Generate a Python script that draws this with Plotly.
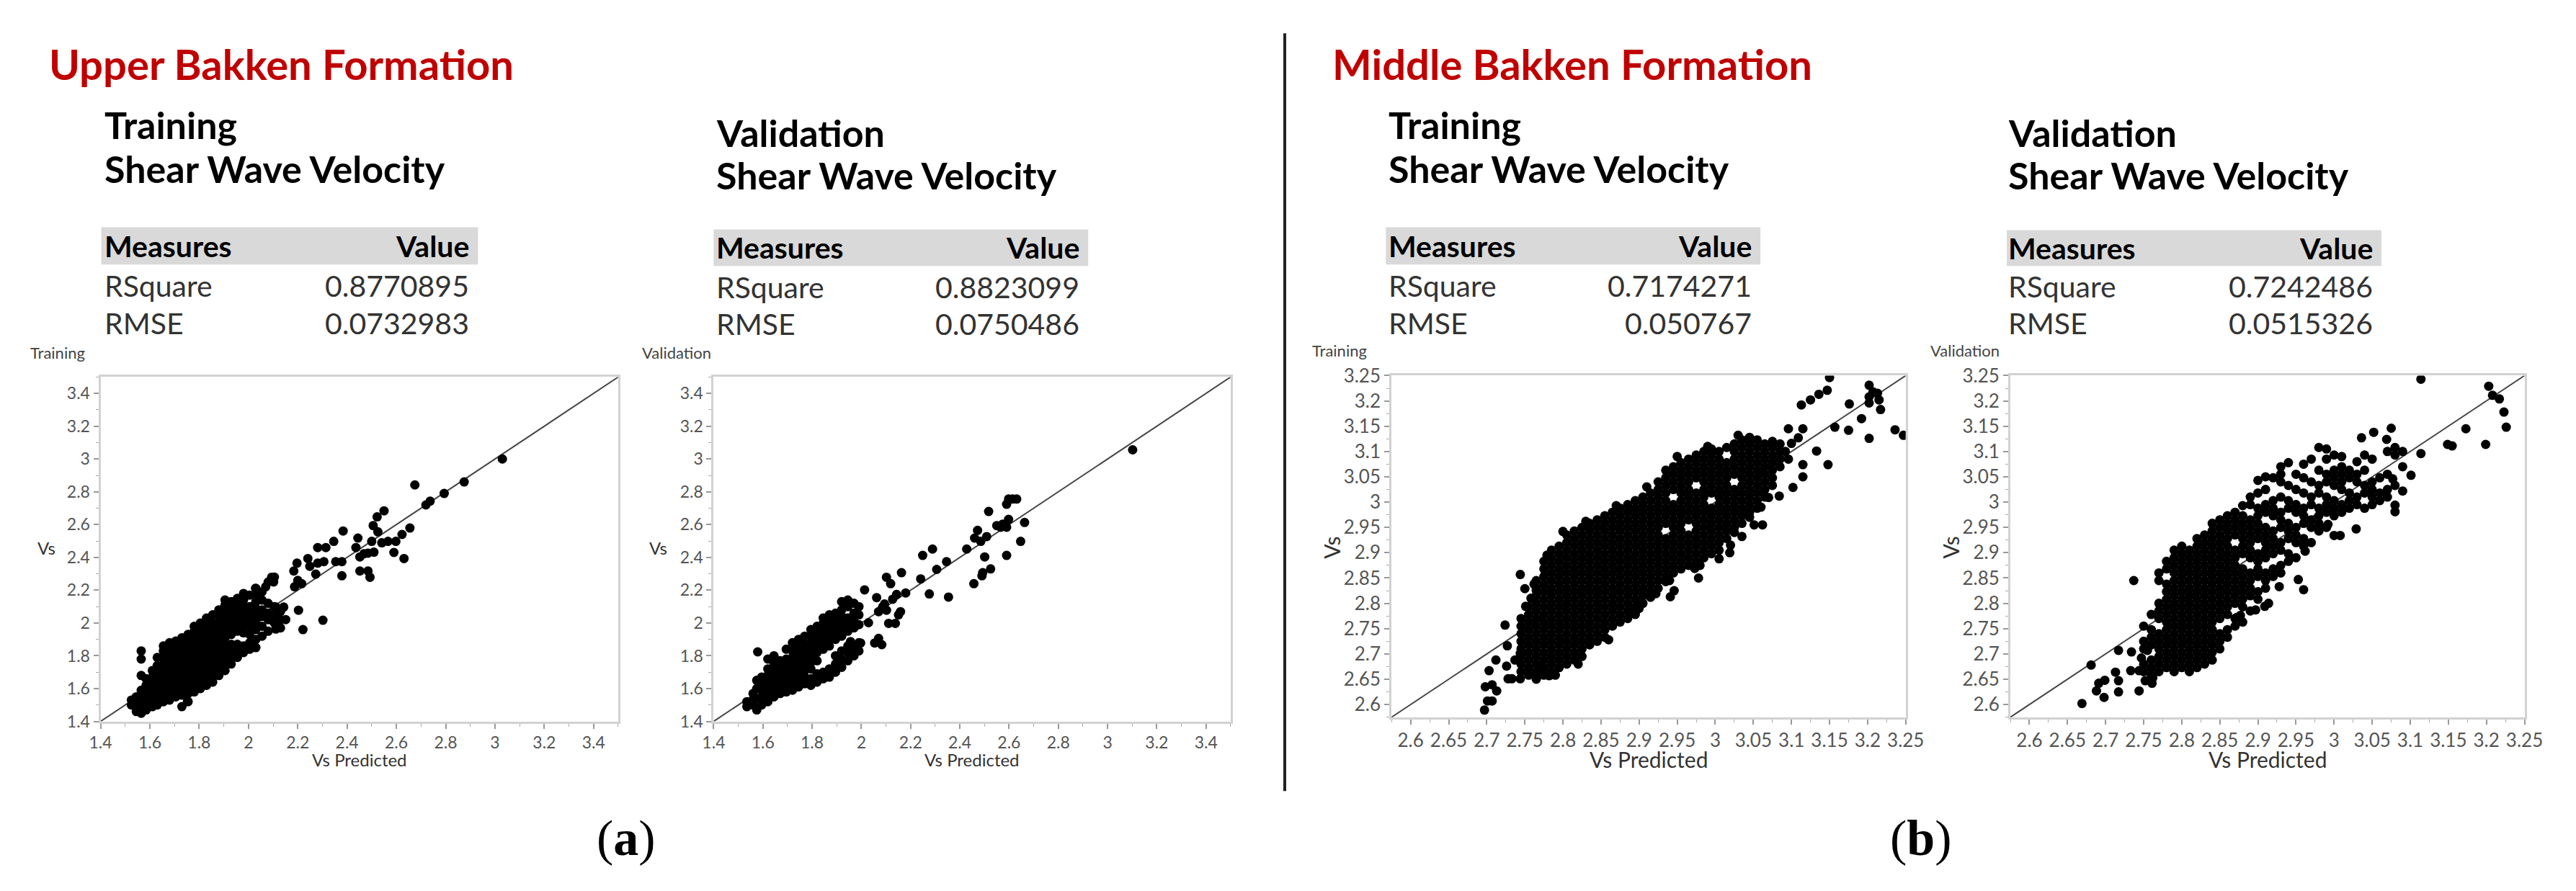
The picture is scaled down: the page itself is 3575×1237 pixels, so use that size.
import plotly.graph_objects as go

W, H = 3575, 1237

# ---------------- data ----------------
UB_RANGE = [1.4, 3.5]
MB_RANGE = [2.575, 3.25]

ub_stats_train = [("RSquare", "0.8770895"), ("RMSE", "0.0732983")]
ub_stats_valid = [("RSquare", "0.8823099"), ("RMSE", "0.0750486")]
mb_stats_train = [("RSquare", "0.7174271"), ("RMSE", "0.050767")]
mb_stats_valid = [("RSquare", "0.7242486"), ("RMSE", "0.0515326")]

# Upper Bakken - training: dense core as (Vs Predicted, [Vs ...]) columns
ub_train_cols = [
    (1.525, [1.50, 1.53]),
    (1.545, [1.46, 1.49, 1.52, 1.55]),
    (1.565, [1.45, 1.48, 1.52, 1.56, 1.59, 1.68, 1.78, 1.83]),
    (1.585, [1.47, 1.50, 1.54, 1.58, 1.62, 1.66]),
    (1.610, [1.49, 1.52, 1.56, 1.60, 1.63, 1.67, 1.71]),
    (1.630, [1.50, 1.54, 1.58, 1.62, 1.66, 1.70, 1.74, 1.79]),
    (1.655, [1.52, 1.55, 1.59, 1.63, 1.67, 1.71, 1.75, 1.79, 1.83, 1.86]),
    (1.680, [1.53, 1.57, 1.61, 1.65, 1.69, 1.73, 1.77, 1.81, 1.85, 1.88]),
    (1.705, [1.55, 1.59, 1.62, 1.66, 1.70, 1.74, 1.78, 1.82, 1.86, 1.89]),
    (1.730, [1.49, 1.56, 1.60, 1.64, 1.68, 1.72, 1.76, 1.80, 1.84, 1.88, 1.91]),
    (1.755, [1.52, 1.57, 1.61, 1.65, 1.69, 1.73, 1.77, 1.81, 1.85, 1.89, 1.93]),
    (1.780, [1.58, 1.62, 1.66, 1.70, 1.74, 1.78, 1.82, 1.86, 1.90, 1.95, 1.98]),
    (1.805, [1.60, 1.64, 1.68, 1.72, 1.76, 1.80, 1.84, 1.88, 1.92, 1.96, 2.00]),
    (1.830, [1.62, 1.66, 1.70, 1.74, 1.78, 1.82, 1.86, 1.90, 1.94, 1.98, 2.03]),
    (1.855, [1.64, 1.68, 1.72, 1.76, 1.80, 1.84, 1.88, 1.92, 1.96, 2.00, 2.05]),
    (1.880, [1.68, 1.72, 1.76, 1.80, 1.84, 1.88, 1.92, 1.96, 2.00, 2.04, 2.08]),
    (1.905, [1.71, 1.75, 1.79, 1.83, 1.87, 1.91, 1.95, 1.99, 2.03, 2.07, 2.11, 2.14]),
    (1.930, [1.75, 1.79, 1.83, 1.87, 1.93, 1.97, 2.01, 2.05, 2.09, 2.13]),
    (1.955, [1.79, 1.83, 1.87, 1.95, 1.99, 2.03, 2.07, 2.11, 2.15]),
    (1.980, [1.82, 1.86, 1.94, 1.98, 2.02, 2.06, 2.10, 2.14, 2.18]),
    (2.005, [1.84, 1.88, 1.93, 1.98, 2.02, 2.06, 2.10, 2.17]),
    (2.030, [1.85, 1.90, 1.96, 2.01, 2.05, 2.09, 2.13, 2.21]),
    (2.055, [1.92, 1.98, 2.04, 2.08, 2.14, 2.19]),
    (2.080, [1.95, 2.02, 2.06, 2.12, 2.25]),
    (2.105, [2.00, 2.05, 2.10, 2.28]),
    (2.130, [1.97, 2.02, 2.07]),
]
ub_train_sparse = [
    (3.03, 3.00), (2.875, 2.86), (2.794, 2.79), (2.737, 2.743), (2.72, 2.72),
    (2.675, 2.842), (2.655, 2.579), (2.623, 2.54), (2.631, 2.393), (2.59, 2.43),
    (2.598, 2.498), (2.566, 2.498), (2.541, 2.489), (2.55, 2.684), (2.522, 2.647),
    (2.506, 2.594), (2.525, 2.556), (2.50, 2.498), (2.509, 2.432), (2.493, 2.279),
    (2.485, 2.317), (2.452, 2.317), (2.444, 2.518), (2.436, 2.46), (2.452, 2.403),
    (2.468, 2.422), (2.485, 2.426), (2.384, 2.561), (2.346, 2.498), (2.379, 2.374),
    (2.379, 2.288), (2.354, 2.374), (2.314, 2.46), (2.281, 2.46), (2.306, 2.374),
    (2.281, 2.365), (2.273, 2.298), (2.241, 2.393), (2.249, 2.346), (2.197, 2.365),
    (2.184, 2.317), (2.20, 2.26), (2.187, 2.221), (2.216, 2.24), (2.203, 2.078),
    (2.221, 1.96), (2.302, 2.017), (2.094, 2.279), (2.102, 2.25), (2.07, 2.221),
    (2.029, 2.212), (2.037, 2.174), (2.111, 2.097), (2.143, 2.097), (2.151, 2.021),
    (2.111, 1.963), (2.094, 2.021), (2.07, 2.059), (1.753, 1.524),
]

# Upper Bakken - validation
ub_valid_cols = [
    (1.535, [1.49, 1.52]),
    (1.560, [1.50, 1.53, 1.57]),
    (1.575, [1.47, 1.54, 1.60, 1.65]),
    (1.595, [1.50, 1.55, 1.59, 1.63, 1.67]),
    (1.620, [1.52, 1.56, 1.60, 1.64, 1.68, 1.72, 1.78]),
    (1.645, [1.55, 1.59, 1.63, 1.67, 1.71, 1.75, 1.80]),
    (1.670, [1.57, 1.61, 1.65, 1.69, 1.73, 1.77]),
    (1.695, [1.58, 1.62, 1.66, 1.70, 1.74, 1.78, 1.84]),
    (1.720, [1.59, 1.63, 1.67, 1.71, 1.75, 1.79, 1.83, 1.88]),
    (1.745, [1.61, 1.65, 1.69, 1.73, 1.77, 1.81, 1.86, 1.90]),
    (1.770, [1.63, 1.67, 1.71, 1.75, 1.79, 1.83, 1.87, 1.92]),
    (1.795, [1.62, 1.66, 1.72, 1.76, 1.80, 1.84, 1.88, 1.92, 1.96]),
    (1.820, [1.64, 1.69, 1.77, 1.82, 1.86, 1.90, 1.94, 1.98]),
    (1.845, [1.66, 1.70, 1.84, 1.88, 1.92, 1.96, 2.00, 2.03]),
    (1.870, [1.67, 1.72, 1.86, 1.90, 1.94, 1.98, 2.02, 2.05]),
    (1.895, [1.70, 1.75, 1.80, 1.90, 1.94, 1.98, 2.02, 2.06]),
    (1.920, [1.73, 1.78, 1.83, 1.92, 1.96, 2.00, 2.04, 2.08, 2.13]),
    (1.945, [1.77, 1.82, 1.86, 1.95, 1.99, 2.03, 2.10, 2.14]),
    (1.970, [1.80, 1.85, 1.97, 2.01, 2.06, 2.12]),
    (1.990, [1.83, 1.88, 1.99, 2.05, 2.10]),
]
ub_valid_sparse = [
    (3.102, 3.056), (2.598, 2.756), (2.614, 2.756), (2.631, 2.756), (2.59, 2.724),
    (2.517, 2.68), (2.663, 2.613), (2.598, 2.632), (2.59, 2.584), (2.566, 2.584),
    (2.55, 2.594), (2.574, 2.603), (2.647, 2.498), (2.59, 2.412), (2.501, 2.403),
    (2.472, 2.565), (2.46, 2.518), (2.485, 2.498), (2.509, 2.527), (2.428, 2.451),
    (2.525, 2.33), (2.493, 2.307), (2.49, 2.288), (2.457, 2.24), (2.346, 2.374),
    (2.306, 2.327), (2.289, 2.451), (2.249, 2.412), (2.241, 2.269), (2.276, 2.177),
    (2.354, 2.158), (2.163, 2.307), (2.102, 2.279), (2.119, 2.24), (2.013, 2.202),
    (2.18, 2.183), (2.143, 2.174), (2.127, 2.145), (2.094, 2.116), (2.159, 2.069),
    (2.151, 2.05), (2.111, 1.998), (2.138, 1.998), (2.062, 2.155), (2.029, 2.002),
    (2.102, 2.078), (2.07, 2.069), (2.086, 2.097), (2.054, 1.878), (2.07, 1.906),
    (2.083, 1.868), (1.579, 1.824), (1.997, 1.878), (1.956, 1.887),
]

# Middle Bakken - training (dense core, columns of Vs values)
mb_train_cols = [
    (2.745, [2.665, 2.680, 2.695, 2.710, 2.725, 2.740, 2.755, 2.770]),
    (2.755, [2.658, 2.673, 2.688, 2.703, 2.718, 2.733, 2.748, 2.763, 2.778, 2.793]),
    (2.765, [2.650, 2.665, 2.680, 2.695, 2.710, 2.725, 2.740, 2.755, 2.770, 2.785, 2.800, 2.815, 2.830, 2.845]),
    (2.775, [2.658, 2.673, 2.688, 2.703, 2.718, 2.733, 2.748, 2.763, 2.778, 2.793, 2.808, 2.823, 2.838, 2.853, 2.868, 2.883]),
    (2.785, [2.665, 2.680, 2.695, 2.710, 2.725, 2.740, 2.755, 2.770, 2.785, 2.800, 2.815, 2.830, 2.845, 2.860, 2.875, 2.890, 2.905]),
    (2.795, [2.673, 2.688, 2.703, 2.718, 2.733, 2.748, 2.763, 2.778, 2.793, 2.808, 2.823, 2.838, 2.853, 2.868, 2.883, 2.898, 2.913]),
    (2.805, [2.680, 2.695, 2.710, 2.725, 2.740, 2.755, 2.770, 2.785, 2.800, 2.815, 2.830, 2.845, 2.860, 2.875, 2.890, 2.905, 2.920, 2.935]),
    (2.815, [2.688, 2.703, 2.718, 2.733, 2.748, 2.763, 2.778, 2.793, 2.808, 2.823, 2.838, 2.853, 2.868, 2.883, 2.898, 2.913, 2.928, 2.943]),
    (2.825, [2.695, 2.710, 2.725, 2.740, 2.755, 2.770, 2.785, 2.800, 2.815, 2.830, 2.845, 2.860, 2.875, 2.890, 2.905, 2.920, 2.935, 2.950]),
    (2.835, [2.718, 2.733, 2.748, 2.763, 2.778, 2.793, 2.808, 2.823, 2.838, 2.853, 2.868, 2.883, 2.898, 2.913, 2.928, 2.943, 2.958]),
    (2.845, [2.725, 2.740, 2.755, 2.770, 2.785, 2.800, 2.815, 2.830, 2.845, 2.860, 2.875, 2.890, 2.905, 2.920, 2.935, 2.950, 2.965]),
    (2.855, [2.733, 2.748, 2.763, 2.778, 2.793, 2.808, 2.823, 2.838, 2.853, 2.868, 2.883, 2.898, 2.913, 2.928, 2.943, 2.958, 2.973]),
    (2.865, [2.755, 2.770, 2.785, 2.800, 2.815, 2.830, 2.845, 2.860, 2.875, 2.890, 2.905, 2.920, 2.935, 2.950, 2.965, 2.980]),
    (2.875, [2.763, 2.778, 2.793, 2.808, 2.823, 2.838, 2.853, 2.868, 2.883, 2.898, 2.913, 2.928, 2.943, 2.958, 2.973, 2.988]),
    (2.885, [2.770, 2.785, 2.800, 2.815, 2.830, 2.845, 2.860, 2.875, 2.890, 2.905, 2.920, 2.935, 2.950, 2.965, 2.980, 2.995]),
    (2.895, [2.778, 2.793, 2.808, 2.823, 2.838, 2.853, 2.868, 2.883, 2.898, 2.913, 2.928, 2.943, 2.958, 2.973, 2.988, 3.003]),
    (2.905, [2.800, 2.815, 2.830, 2.845, 2.860, 2.875, 2.890, 2.905, 2.920, 2.935, 2.950, 2.965, 2.980, 2.995, 3.010]),
    (2.915, [2.812, 2.823, 2.838, 2.853, 2.868, 2.883, 2.898, 2.913, 2.928, 2.943, 2.958, 2.973, 2.988, 3.003, 3.018]),
    (2.925, [2.830, 2.845, 2.860, 2.875, 2.890, 2.905, 2.920, 2.935, 2.950, 2.965, 2.980, 2.995, 3.010, 3.025, 3.040]),
    (2.935, [2.843, 2.853, 2.868, 2.883, 2.898, 2.913, 2.928, 2.958, 2.973, 2.988, 3.003, 3.018, 3.033, 3.048, 3.063]),
    (2.945, [2.860, 2.875, 2.890, 2.905, 2.920, 2.935, 2.950, 2.965, 2.980, 2.995, 3.025, 3.040, 3.055, 3.070]),
    (2.955, [2.868, 2.883, 2.898, 2.913, 2.928, 2.943, 2.958, 2.973, 2.988, 3.003, 3.018, 3.033, 3.048, 3.063, 3.078]),
    (2.965, [2.875, 2.890, 2.905, 2.920, 2.935, 2.965, 2.980, 2.995, 3.010, 3.025, 3.040, 3.055, 3.070, 3.085]),
    (2.975, [2.883, 2.898, 2.913, 2.928, 2.943, 2.958, 2.973, 2.988, 3.003, 3.018, 3.048, 3.063, 3.078, 3.093]),
    (2.985, [2.890, 2.905, 2.920, 2.935, 2.950, 2.965, 2.980, 2.995, 3.010, 3.025, 3.040, 3.055, 3.070, 3.085, 3.100]),
    (2.995, [2.898, 2.913, 2.928, 2.943, 2.958, 2.973, 2.988, 3.018, 3.033, 3.048, 3.063, 3.078, 3.093, 3.105]),
    (3.005, [2.905, 2.920, 2.935, 2.950, 2.965, 2.980, 2.995, 3.010, 3.025, 3.040, 3.055, 3.070, 3.085, 3.100]),
    (3.015, [2.928, 2.943, 2.958, 2.973, 2.988, 3.003, 3.018, 3.033, 3.048, 3.063, 3.078, 3.108]),
    (3.025, [2.940, 2.950, 2.965, 2.980, 2.995, 3.010, 3.025, 3.055, 3.070, 3.085, 3.100, 3.115]),
    (3.035, [2.958, 2.973, 2.988, 3.003, 3.018, 3.033, 3.048, 3.063, 3.078, 3.093, 3.108, 3.123]),
    (3.045, [2.970, 2.980, 2.995, 3.010, 3.025, 3.040, 3.055, 3.070, 3.085, 3.100, 3.115, 3.128]),
    (3.055, [2.988, 3.003, 3.018, 3.033, 3.048, 3.063, 3.078, 3.093, 3.108, 3.123]),
    (3.065, [3.010, 3.025, 3.040, 3.055, 3.070, 3.085, 3.100, 3.115]),
    (3.075, [3.033, 3.048, 3.063, 3.078, 3.093, 3.108, 3.120]),
    (3.085, [3.070, 3.085, 3.100, 3.115]),
]
mb_train_sparse = [
    (3.150, 3.246), (3.147, 3.221), (3.136, 3.213), (3.125, 3.202), (3.113, 3.192),
    (3.202, 3.231), (3.207, 3.218), (3.213, 3.215), (3.215, 3.202), (3.202, 3.208),
    (3.176, 3.194), (3.202, 3.196), (3.217, 3.183), (3.192, 3.165), (3.157, 3.148),
    (3.175, 3.142), (3.202, 3.126), (3.236, 3.143), (3.247, 3.132), (3.096, 3.145),
    (3.115, 3.145), (3.109, 3.127), (3.133, 3.101), (3.115, 3.074), (3.115, 3.050),
    (3.148, 3.074), (3.102, 3.029), (3.084, 3.012), (3.070, 3.009), (3.051, 2.955),
    (3.062, 2.955), (3.035, 2.932), (3.019, 2.900), (3.005, 2.888), (2.978, 2.850),
    (2.973, 2.869), (2.946, 2.825), (2.941, 2.813), (2.922, 2.819), (2.900, 2.794),
    (2.888, 2.782), (2.744, 2.857), (2.750, 2.829), (2.762, 2.838), (2.765, 2.825),
    (2.751, 2.794), (2.724, 2.757), (2.703, 2.667), (2.698, 2.635), (2.707, 2.639),
    (2.713, 2.627), (2.701, 2.607), (2.707, 2.607), (2.697, 2.589), (2.712, 2.688),
    (2.727, 2.716), (2.728, 2.651), (2.733, 2.651), (2.744, 2.651), (2.726, 2.676),
    (2.737, 2.688), (2.744, 2.701), (2.767, 2.657), (2.782, 2.657), (2.771, 2.673),
    (3.092, 3.100), (3.096, 3.085), (3.100, 3.116),
    (2.758, 2.810), (2.779, 2.895), (2.800, 2.942), (2.830, 2.962), (2.870, 2.993),
    (2.910, 3.030), (2.950, 3.090), (2.990, 3.110), (3.030, 3.132), (2.790, 2.658),
    (2.820, 2.680), (2.860, 2.728), (2.900, 2.790), (2.940, 2.845), (2.980, 2.875),
    (3.020, 2.915), (3.060, 2.990),
]

# Middle Bakken - validation
mb_valid_cols = [
    (2.750, [2.665, 2.680, 2.710, 2.725, 2.755]),
    (2.760, [2.658, 2.673, 2.688, 2.718, 2.733, 2.748, 2.778]),
    (2.770, [2.665, 2.680, 2.695, 2.710, 2.725, 2.740, 2.770, 2.785, 2.800, 2.845, 2.860]),
    (2.780, [2.673, 2.688, 2.703, 2.718, 2.733, 2.748, 2.763, 2.778, 2.793, 2.808, 2.823, 2.838, 2.868, 2.883]),
    (2.790, [2.665, 2.680, 2.695, 2.710, 2.725, 2.740, 2.755, 2.770, 2.785, 2.800, 2.815, 2.830, 2.845, 2.860, 2.875, 2.890, 2.905]),
    (2.800, [2.673, 2.688, 2.703, 2.718, 2.733, 2.748, 2.763, 2.778, 2.793, 2.808, 2.823, 2.838, 2.853, 2.868, 2.883, 2.898, 2.913]),
    (2.810, [2.665, 2.680, 2.695, 2.710, 2.725, 2.740, 2.755, 2.770, 2.785, 2.800, 2.815, 2.830, 2.845, 2.860, 2.875, 2.890, 2.905]),
    (2.820, [2.673, 2.688, 2.703, 2.718, 2.733, 2.748, 2.763, 2.778, 2.793, 2.808, 2.823, 2.838, 2.853, 2.868, 2.883, 2.898, 2.913, 2.928]),
    (2.830, [2.680, 2.695, 2.710, 2.725, 2.740, 2.755, 2.770, 2.785, 2.800, 2.815, 2.830, 2.845, 2.860, 2.875, 2.890, 2.905, 2.920, 2.935]),
    (2.840, [2.688, 2.703, 2.718, 2.733, 2.748, 2.763, 2.778, 2.793, 2.808, 2.823, 2.838, 2.853, 2.868, 2.883, 2.898, 2.913, 2.928, 2.943, 2.958]),
    (2.850, [2.710, 2.725, 2.740, 2.770, 2.785, 2.800, 2.815, 2.830, 2.845, 2.860, 2.875, 2.890, 2.905, 2.920, 2.935, 2.950, 2.965]),
    (2.860, [2.733, 2.748, 2.778, 2.793, 2.808, 2.823, 2.838, 2.853, 2.868, 2.883, 2.898, 2.913, 2.928, 2.943, 2.958, 2.973]),
    (2.870, [2.755, 2.770, 2.800, 2.815, 2.830, 2.845, 2.860, 2.875, 2.890, 2.905, 2.935, 2.950, 2.965, 2.980]),
    (2.880, [2.763, 2.793, 2.808, 2.823, 2.838, 2.853, 2.868, 2.898, 2.913, 2.928, 2.943, 2.958, 2.973, 2.993]),
    (2.890, [2.785, 2.815, 2.830, 2.845, 2.860, 2.890, 2.905, 2.920, 2.935, 2.950, 2.965, 2.995, 3.010]),
    (2.900, [2.808, 2.823, 2.853, 2.868, 2.883, 2.898, 2.928, 2.943, 2.958, 2.973, 2.988, 3.018, 3.043]),
    (2.910, [2.830, 2.845, 2.860, 2.890, 2.905, 2.920, 2.935, 2.950, 2.980, 2.995, 3.025, 3.050]),
    (2.920, [2.853, 2.868, 2.898, 2.913, 2.928, 2.943, 2.973, 2.988, 3.003, 3.048]),
    (2.930, [2.860, 2.875, 2.905, 2.920, 2.950, 2.965, 2.980, 3.010, 3.040, 3.055, 3.070]),
    (2.940, [2.883, 2.898, 2.928, 2.943, 2.958, 2.988, 3.003, 3.033, 3.078]),
    (2.950, [2.890, 2.920, 2.935, 2.950, 2.980, 2.995, 3.025, 3.055]),
    (2.960, [2.913, 2.928, 2.958, 2.973, 2.988, 3.018, 3.048, 3.075]),
    (2.970, [2.920, 2.950, 2.965, 2.995, 3.010, 3.040, 3.085]),
    (2.980, [2.943, 2.958, 2.973, 2.988, 3.018, 3.033, 3.063, 3.108]),
    (2.990, [2.950, 2.980, 2.995, 3.010, 3.040, 3.055, 3.085, 3.105]),
    (3.000, [2.973, 2.988, 3.003, 3.033, 3.048, 3.063, 3.093]),
    (3.010, [2.980, 2.995, 3.025, 3.040, 3.055, 3.070, 3.090]),
    (3.020, [2.988, 3.003, 3.018, 3.048, 3.063]),
    (3.030, [2.995, 3.010, 3.040, 3.055, 3.080]),
    (3.040, [2.988, 3.018, 3.033, 3.063, 3.093]),
    (3.050, [2.995, 3.010, 3.025, 3.040, 3.085]),
    (3.060, [3.003, 3.018, 3.048]),
    (3.070, [3.010, 3.025, 3.055, 3.100]),
    (3.080, [3.033, 3.093, 3.108]),
    (3.090, [3.070, 3.100]),
]
mb_valid_sparse = [
    (3.114, 3.243), (3.203, 3.229), (3.208, 3.211), (3.217, 3.204), (3.223, 3.178),
    (3.226, 3.148), (3.173, 3.145), (3.149, 3.114), (3.155, 3.111), (3.199, 3.114),
    (3.114, 3.096), (3.101, 3.053), (3.075, 3.146), (3.052, 3.138), (3.036, 3.127),
    (3.069, 3.124), (3.090, 3.022), (3.077, 3.046), (3.080, 2.994), (3.080, 2.981),
    (3.029, 2.947), (3.008, 2.934), (3.000, 2.934), (2.992, 2.956), (2.962, 2.903),
    (2.953, 2.847), (2.960, 2.827), (2.928, 2.833), (2.914, 2.800), (2.909, 2.794),
    (2.897, 2.787), (2.877, 2.776), (2.872, 2.772), (2.737, 2.845), (2.717, 2.707),
    (2.681, 2.678), (2.669, 2.602), (2.688, 2.627), (2.691, 2.642), (2.699, 2.648),
    (2.698, 2.614), (2.713, 2.664), (2.717, 2.647), (2.717, 2.625), (2.744, 2.627),
    (2.752, 2.647), (2.761, 2.642), (2.762, 2.653), (2.733, 2.667), (2.744, 2.667),
    (2.734, 2.704), (2.747, 2.692), (2.755, 2.707),
]

# ---------------- layout helpers ----------------
def fx(px):
    return px / W


def fy(py):
    return 1 - py / H


def flatten(cols, sparse):
    xs, ys = [], []
    for x, yl in cols:
        for y in yl:
            xs.append(x)
            ys.append(y)
    for x, y in sparse:
        xs.append(x)
        ys.append(y)
    return xs, ys


FONT = "Lato"
RED = "#c00000"
TICK_COLOR = "#555555"

panels = [
    dict(cols=ub_train_cols, sparse=ub_train_sparse, rng=UB_RANGE, tick0=1.4, dtick=0.2, minor=0.1,
         box=(125, 852, 519, 1009), tick_size=23, title_size=24, vs_rot=False, vs_x=49,
         small="Training", small_x=24, small_y=484),
    dict(cols=ub_valid_cols, sparse=ub_valid_sparse, rng=UB_RANGE, tick0=1.4, dtick=0.2, minor=0.1,
         box=(986, 1712, 519, 1009), tick_size=23, title_size=24, vs_rot=False, vs_x=908,
         small="Validation", small_x=883, small_y=484),
    dict(cols=mb_train_cols, sparse=mb_train_sparse, rng=MB_RANGE, tick0=2.6, dtick=0.05, minor=0.025,
         box=(1938, 2660, 517, 1003), tick_size=26, title_size=30, vs_rot=True, vs_x=1853,
         small="Training", small_x=1824, small_y=481),
    dict(cols=mb_valid_cols, sparse=mb_valid_sparse, rng=MB_RANGE, tick0=2.6, dtick=0.05, minor=0.025,
         box=(2807, 3529, 517, 1003), tick_size=26, title_size=30, vs_rot=True, vs_x=2722,
         small="Validation", small_x=2693, small_y=481),
]

fig = go.Figure()
annotations = []
shapes = []


def note(px, py, text, size, color="black", xanchor="left", family=FONT, angle=0):
    annotations.append(dict(x=fx(px), y=fy(py), xref="paper", yref="paper", text=text,
                            showarrow=False, xanchor=xanchor, yanchor="middle", textangle=angle,
                            font=dict(family=family, size=size, color=color)))


for i, p in enumerate(panels, start=1):
    suffix = "" if i == 1 else str(i)
    xs, ys = flatten(p["cols"], p["sparse"])
    x0, x1, y0, y1 = p["box"]
    lo, hi = p["rng"]
    # 1:1 reference line (drawn under the points)
    fig.add_trace(go.Scatter(x=[lo, hi], y=[lo, hi], mode="lines", xaxis="x" + suffix, yaxis="y" + suffix,
                             line=dict(color="#444444", width=2), showlegend=False, hoverinfo="skip"))
    fig.add_trace(go.Scatter(x=xs, y=ys, mode="markers", xaxis="x" + suffix, yaxis="y" + suffix,
                             marker=dict(color="black", size=13, line=dict(width=0)),
                             showlegend=False, hoverinfo="skip"))
    axis_common = dict(
        range=p["rng"], tick0=p["tick0"], dtick=p["dtick"], showgrid=False, zeroline=False,
        showline=True, mirror=True, linecolor="#d2d2d2", linewidth=3,
        ticks="outside", ticklen=7, tickwidth=1.5, tickcolor="#999999",
        tickfont=dict(family=FONT, size=p["tick_size"], color=TICK_COLOR),
        minor=dict(dtick=p["minor"], ticks="outside", ticklen=4, tickcolor="#aaaaaa", tickwidth=1, showgrid=False),
    )
    fig.update_layout(**{
        "xaxis" + suffix: dict(domain=[fx(x0), fx(x1)], anchor="y" + suffix, **axis_common),
        "yaxis" + suffix: dict(domain=[fy(y1), fy(y0)], anchor="x" + suffix, **axis_common),
    })
    note((x0 + x1) / 2, 1063, "Vs Predicted", p["title_size"], "#333333", xanchor="center")
    note(p["vs_x"], 762, "Vs", p["title_size"], "#333333", xanchor="center", angle=-90 if p["vs_rot"] else 0)
    note(p["small_x"], p["small_y"], p["small"], 22, "#444444")

# report headers and tables
tables = [
    dict(name="Training", x=129, band=(126, 655, 306, 359), h1=160, h2=222, r1=389, r2=442, stats=ub_stats_train),
    dict(name="Validation", x=988, band=(986, 1512, 309, 361), h1=171, h2=232, r1=391, r2=443, stats=ub_stats_valid),
    dict(name="Training", x=1932, band=(1930, 2456, 306, 359), h1=160, h2=222, r1=389, r2=442, stats=mb_stats_train),
    dict(name="Validation", x=2802, band=(2802, 3328, 310, 361), h1=171, h2=232, r1=390, r2=442, stats=mb_stats_valid),
]
for t in tables:
    bx0, bx1, by0, by1 = t["band"]
    shapes.append(dict(type="rect", xref="paper", yref="paper", x0=fx(bx0), x1=fx(bx1), y0=fy(by1), y1=fy(by0),
                       fillcolor="#d9d9d9", line=dict(width=0), layer="below"))
    note(t["x"], t["h1"], "<b>%s</b>" % t["name"], 52)
    note(t["x"], t["h2"], "<b>Shear Wave Velocity</b>", 52)
    mid = (by0 + by1) / 2
    note(t["x"], mid, "<b>Measures</b>", 41)
    note(bx1 - 10, mid, "<b>Value</b>", 41, xanchor="right")
    for (label, val), ry in zip(t["stats"], [t["r1"], t["r2"]]):
        note(t["x"], ry, label, 41, "#333333")
        note(bx1 - 10, ry, val, 41, "#333333", xanchor="right")

# section titles
note(51, 73, "<b>Upper Bakken Formation</b>", 58, RED)
note(1853, 73, "<b>Middle Bakken Formation</b>", 58, RED)
# panel letters
note(863, 1175, "(<b>a</b>)", 70, xanchor="center", family="Liberation Serif")
note(2681, 1175, "(<b>b</b>)", 70, xanchor="center", family="Liberation Serif")

# divider
shapes.append(dict(type="line", xref="paper", yref="paper", x0=fx(1788), x1=fx(1788), y0=fy(30), y1=fy(1108),
                   line=dict(color="#222222", width=4)))

fig.update_layout(width=W, height=H, margin=dict(l=0, r=0, t=0, b=0),
                  paper_bgcolor="white", plot_bgcolor="white",
                  annotations=annotations, shapes=shapes, showlegend=False)

fig.write_html("out.html", config={"displayModeBar": False},
               post_script="document.body.style.margin='0';")
